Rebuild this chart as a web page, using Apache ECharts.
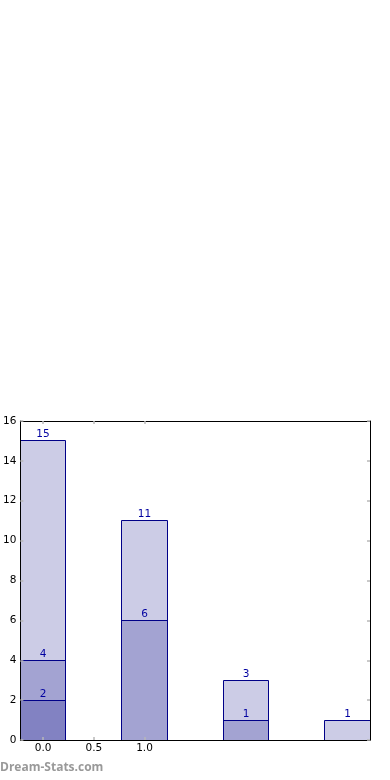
<!DOCTYPE html>
<html>
<head>
<meta charset="utf-8">
<script src="https://cdn.jsdelivr.net/npm/echarts@6/dist/echarts.min.js"></script>
<style>
html,body{margin:0;padding:0;background:#fff;}
#c{width:390px;height:780px;}
</style>
</head>
<body>
<div id="c"></div>
<script>
// Data
var xPositions = [0, 1, 2, 3];
var seriesLight = [15, 11, 3, 1];
var seriesMedium = [4, 6, 1, 0];
var seriesDark = [2, 0, 0, 0];
var xTickValues = [0, 0.5, 1.0];
var yTickValues = [0, 2, 4, 6, 8, 10, 12, 14, 16];
var barWidthUnits = 0.45;

var chart = echarts.init(document.getElementById('c'), null, {renderer: 'canvas'});

function pairs(vals) {
  return xPositions.map(function (x, i) { return [x, vals[i]]; });
}

function renderBar(params, api) {
  var x = api.value(0), y = api.value(1);
  if (!y) return null;
  var p0 = api.coord([x - barWidthUnits / 2, y]);
  var p1 = api.coord([x + barWidthUnits / 2, 0]);
  var left = Math.floor(p0[0]) + 0.5, right = Math.floor(p1[0]) + 0.5;
  var top = Math.floor(p0[1]) + 0.5, bottom = Math.floor(p1[1]) + 0.5;
  return {
    type: 'group',
    children: [
      {
        type: 'rect',
        shape: {x: left, y: top, width: right - left, height: bottom - top},
        style: {fill: 'rgba(0,0,128,0.2)', stroke: '#000088', lineWidth: 1}
      },
      {
        type: 'text',
        x: (left + right) / 2,
        y: top - 1,
        style: {
          text: String(y),
          align: 'center',
          verticalAlign: 'bottom',
          fill: '#0000a0',
          font: '10.5px "DejaVu Sans"'
        },
        z2: 10
      }
    ]
  };
}

var tickStyle = {show: true, inside: true, length: 3, lineStyle: {color: '#b8b8b8', width: 1.5}};
var lineStyle = {show: true, onZero: false, lineStyle: {color: '#000', width: 1}};
var gridPos = {left: 19, right: 20, top: 421, bottom: 40};

var option = {
  animation: false,
  backgroundColor: '#fff',
  grid: gridPos,
  xAxis: [
    {
      type: 'value', min: -0.225, max: 3.225, position: 'bottom', z: 5,
      axisLine: lineStyle,
      axisTick: Object.assign({}, tickStyle, {customValues: xTickValues}),
      splitLine: {show: false},
      axisLabel: {
        customValues: xTickValues, margin: 3, color: '#000',
        fontFamily: 'DejaVu Sans', fontSize: 10.5,
        formatter: function (v) { return v.toFixed(1); }
      }
    },
    {
      type: 'value', min: -0.225, max: 3.225, position: 'top', z: 5,
      axisLine: lineStyle,
      axisTick: Object.assign({}, tickStyle, {customValues: xTickValues}),
      splitLine: {show: false},
      axisLabel: {show: false}
    }
  ],
  yAxis: [
    {
      type: 'value', min: 0, max: 16, interval: 2, position: 'left', z: 5,
      axisLine: lineStyle,
      axisTick: Object.assign({}, tickStyle, {customValues: yTickValues}),
      splitLine: {show: false},
      axisLabel: {
        customValues: yTickValues, margin: 4, color: '#000',
        fontFamily: 'DejaVu Sans', fontSize: 10.5
      }
    },
    {
      type: 'value', min: 0, max: 16, interval: 2, position: 'right', z: 5,
      axisLine: lineStyle,
      axisTick: Object.assign({}, tickStyle, {customValues: yTickValues}),
      splitLine: {show: false},
      axisLabel: {show: false}
    }
  ],
  graphic: [{
    type: 'text', left: 0, top: 762,
    style: {text: 'Dream-Stats.com', fill: '#999', font: 'bold 12px "Open Sans"'}
  }],
  series: [
    {type: 'custom', renderItem: renderBar, data: pairs(seriesLight), z: 2, clip: true},
    {type: 'custom', renderItem: renderBar, data: pairs(seriesMedium), z: 3, clip: true},
    {type: 'custom', renderItem: renderBar, data: pairs(seriesDark), z: 4, clip: true}
  ]
};
chart.setOption(option);
</script>
</body>
</html>
